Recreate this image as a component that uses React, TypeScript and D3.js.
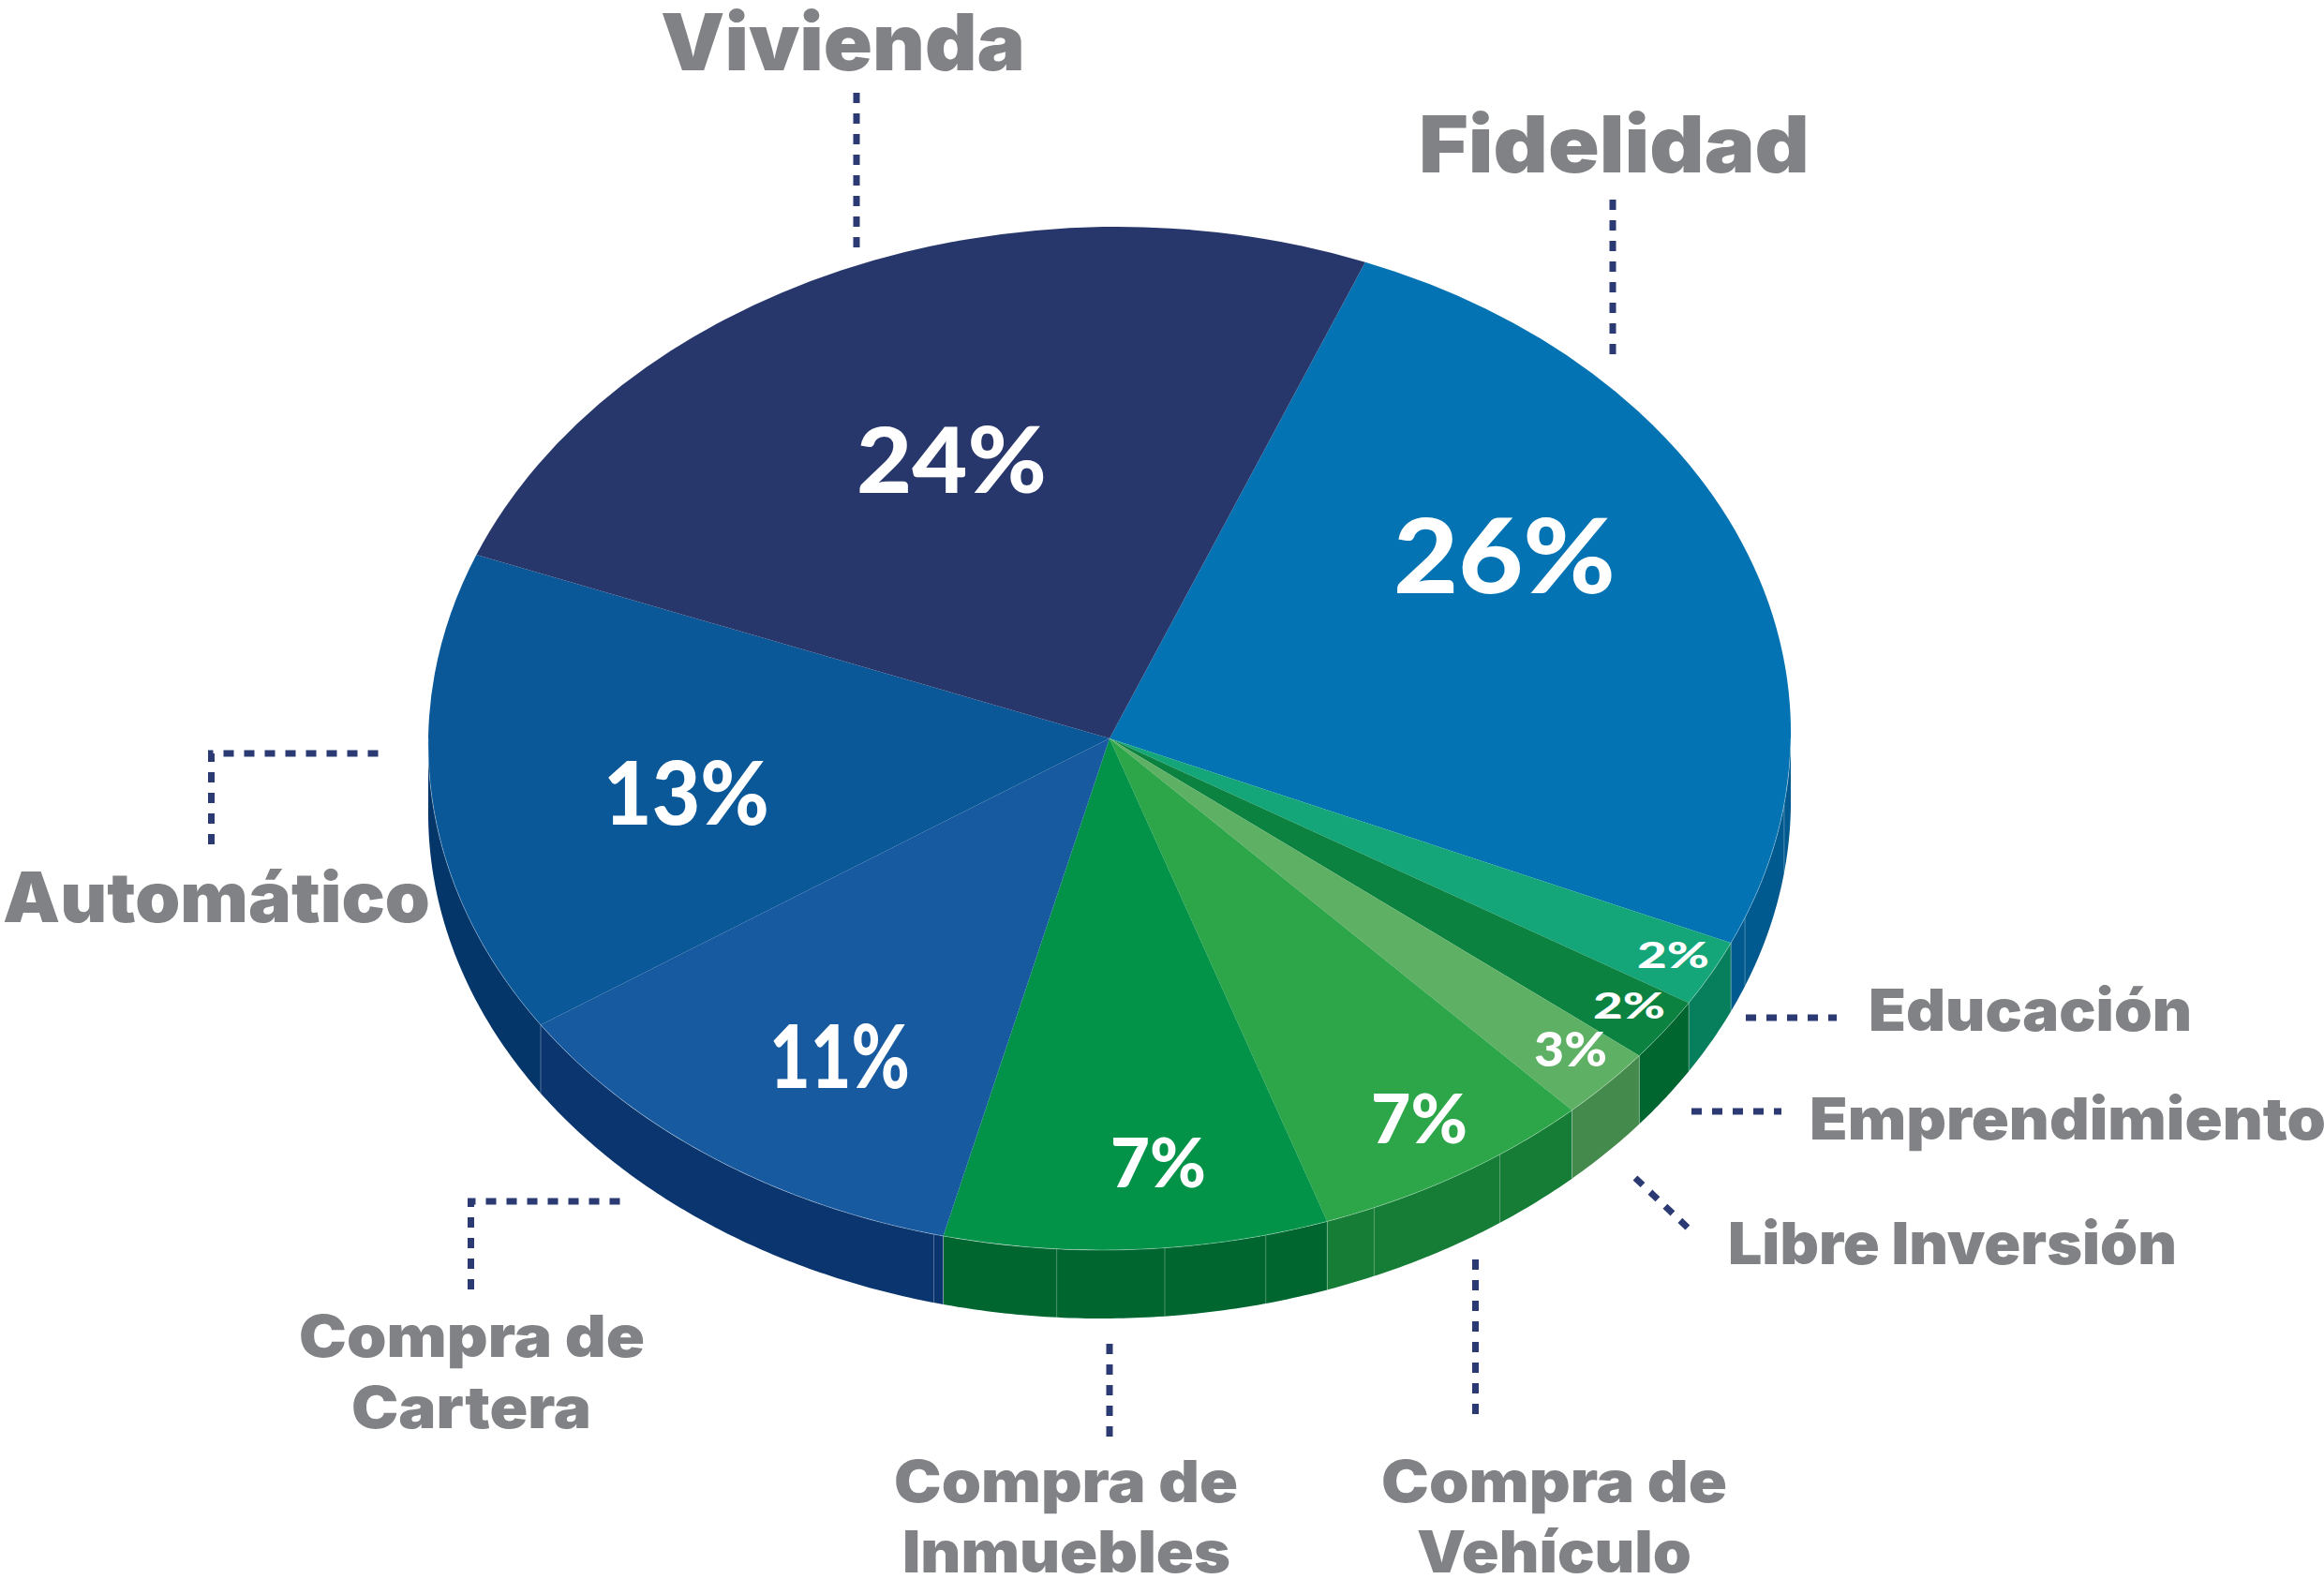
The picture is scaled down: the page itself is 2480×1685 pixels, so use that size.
import React from 'react';
import * as d3 from 'd3';

const width = 2480;
const height = 1685;

const categories = ['Fidelidad', 'Educación', 'Emprendimiento', 'Libre Inversión', 'Compra de Vehículo', 'Compra de Inmuebles', 'Compra de Cartera', 'Automático', 'Vivienda'];
const percents = [26, 2, 2, 3, 7, 7, 11, 13, 24];
// the slices in the picture are not drawn to scale with the printed percents,
// so this is the share of the disc each slice takes
const sliceShares = [25.6, 2.1, 2.0, 2.3, 6.7, 9.1, 11.8, 15.3, 25.1];
const topColors = ['#0373b4', '#14a678', '#0b8240', '#5eb064', '#2ca649', '#039348', '#175aa0', '#0b5899', '#27376b'];
const wallColors = ['#005a8f', '#077f5d', '#00662f', '#448a4c', '#157d35', '#006630', '#0a356f', '#05366a', '#27376b'];
const wallSeams = [97.4, 110.5, 144.4, 156.5, 166.1, 174.7, 183.8, 194.3];

const cx = 1184;
const cy = 788;
const rx = 727;
const ry = 546;
const depth = 73;
const skew = -0.015; // the disc leans a little: top sits right of centre, bottom left
const startDeg = 21.4;
const rad = (d: number) => (d * Math.PI) / 180;

// x, text width, baseline per line
const nameLayout = [
  { size: 84, lines: [['Fidelidad', 1514, 417, 184]] },
  { size: 62, lines: [['Educación', 1994, 345, 1100]] },
  { size: 62, lines: [['Emprendimiento', 1931, 551, 1216]] },
  { size: 62, lines: [['Libre Inversión', 1844, 479, 1349]] },
  { size: 62, lines: [['Compra de', 1474, 369, 1603], ['Vehículo', 1512, 293, 1678]] },
  { size: 62, lines: [['Compra de', 954, 367, 1603], ['Inmuebles', 963, 350, 1678]] },
  { size: 62, lines: [['Compra de', 319, 369, 1448], ['Cartera', 375, 256, 1524]] },
  { size: 74, lines: [['Automático', 3, 456, 984]] },
  { size: 84, lines: [['Vivienda', 705, 389, 75]] },
];

// x, width, baseline, font size of each percent label
const percentLayout = [
  [1487, 237, 633, 110],
  [1747, 77, 1033, 38],
  [1700, 77, 1087, 38],
  [1637, 78, 1138, 52],
  [1463, 103, 1220, 72],
  [1185, 102, 1267, 72],
  [821, 150, 1161, 94],
  [644, 177, 880, 94],
  [914, 203, 526, 98],
];

const leaders = [
  [[1721, 213], [1721, 379]],
  [[1863, 1086], [1960, 1086]],
  [[1805, 1186], [1901, 1186]],
  [[1745, 1257], [1803, 1312]],
  [[1574.5, 1344], [1574.5, 1511]],
  [[1184, 1434], [1184, 1534]],
  [[502.5, 1376], [502.5, 1282], [662, 1282]],
  [[225.5, 901], [225.5, 804], [406, 804]],
  [[914, 99], [914, 266]],
];

const rimX = (deg: number) => cx + rx * Math.sin(rad(deg)) - skew * ry * Math.cos(rad(deg));
const rimY = (deg: number) => cy - ry * Math.cos(rad(deg));

export default function App() {
  const slices = d3
    .pie<number>()
    .sort(null)
    .startAngle(rad(startDeg))
    .endAngle(rad(startDeg + 360))(sliceShares);

  const arc = d3.arc<d3.PieArcDatum<number>>().innerRadius(0).outerRadius(rx);

  const wall = d3
    .area<number>()
    .x((d) => rimX(d))
    .y0((d) => rimY(d))
    .y1((d) => rimY(d) + depth);

  const rim = d3.line<number>().x((d) => rimX(d)).y((d) => rimY(d));
  const leaderLine = d3.line();

  const walls = slices.map((s) => {
    const a0 = Math.max((s.startAngle * 180) / Math.PI, 90);
    const a1 = Math.min((s.endAngle * 180) / Math.PI, 270);
    if (a1 <= a0) return null;
    return wall(d3.range(a0, a1, 0.5).concat(a1));
  });

  const boundaries = slices.map((s) => (s.endAngle * 180) / Math.PI).filter((d) => d > 90 && d < 270);
  const sy = ry / rx;

  return (
    <svg
      width={width}
      height={height}
      viewBox={`0 0 ${width} ${height}`}
      style={{ position: 'absolute', left: 0, top: 0, display: 'block', background: '#fff' }}
    >
      <g>
        {walls.map((d, i) => d && <path key={i} d={d} fill={wallColors[i]} />)}
        {boundaries.concat(wallSeams).map((d, i) => (
          <line key={i} x1={rimX(d)} x2={rimX(d)} y1={rimY(d)} y2={rimY(d) + depth} stroke="#fff" strokeOpacity={0.3} strokeWidth={1} />
        ))}
      </g>
      <g transform={`matrix(1,0,${skew * sy},${sy},${cx},${cy})`}>
        {slices.map((s, i) => (
          <path key={categories[i]} d={arc(s) as string} fill={topColors[i]} />
        ))}
      </g>
      <path d={rim(d3.range(90, 270.5, 0.5)) as string} fill="none" stroke="#fff" strokeOpacity={0.3} strokeWidth={1} />

      {percents.map((p, i) => {
        const [x, w, y, size] = percentLayout[i];
        return (
          <text key={i} x={x} y={y} textLength={w} lengthAdjust="spacingAndGlyphs" fontFamily="Lato" fontWeight={900} fontSize={size} fill="#fff">
            {p}%
          </text>
        );
      })}

      {leaders.map((d, i) => (
        <path key={i} d={leaderLine(d as [number, number][]) as string} fill="none" stroke="#2b3a73" strokeWidth={7} strokeDasharray="11 11" />
      ))}

      {nameLayout.map((n, i) =>
        n.lines.map(([t, x, w, y]) => (
          <text key={`${i}-${t}`} x={x as number} y={y as number} textLength={w as number} lengthAdjust="spacingAndGlyphs" fontFamily="Inter" fontWeight={900} fontSize={n.size} fill="#808285">
            {t}
          </text>
        ))
      )}
    </svg>
  );
}
